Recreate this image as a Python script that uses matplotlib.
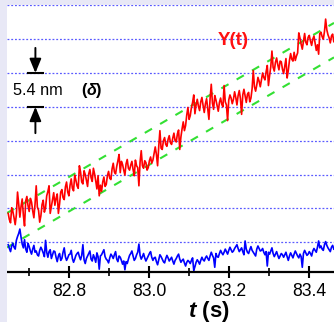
import numpy as np
import matplotlib
matplotlib.use("Agg")
import matplotlib.pyplot as plt
from matplotlib.patches import Rectangle

plt.rcParams['font.family'] = ['Liberation Sans', 'DejaVu Sans']
plt.rcParams['mathtext.fontset'] = 'custom'
plt.rcParams['mathtext.it'] = 'Liberation Sans:italic:bold'
plt.rcParams['mathtext.rm'] = 'Liberation Sans:bold'

# ---- data (time in s, displacement in nm) ----
t_start, t_end = 82.648, 83.462
red_y = [
    4.6, 3.6, 3.1, 5.5, 4.9, 3.9, 2.8, 4.4, 8.0, 6.1, 4.0, 5.7, 6.9, 4.3, 2.6, 6.6, 7.3, 5.8, 4.9, 7.0,
    6.4, 5.0, 3.9, 6.1, 9.0, 5.6, 5.1, 3.2, 4.2, 6.0, 6.7, 4.8, 5.5, 7.4, 8.1, 9.0, 4.6, 5.7, 6.9, 7.9,
    5.9, 7.0, 7.7, 4.6, 6.1, 8.0, 8.4, 7.1, 6.8, 8.8, 9.6, 8.0, 7.4, 9.1, 10.1, 8.6, 8.2, 10.7, 9.9, 9.0,
    8.6, 12.2, 11.2, 9.6, 9.3, 11.4, 10.8, 9.9, 8.9, 10.9, 11.6, 10.3, 9.7, 11.8, 10.9, 9.8, 8.5, 10.6, 7.4, 9.1,
    8.1, 9.6, 10.4, 8.9, 9.2, 10.6, 11.3, 10.2, 10.0, 11.7, 12.6, 11.2, 10.9, 12.1, 13.0, 14.0, 11.1, 12.9, 12.4, 11.5,
    10.7, 12.5, 13.2, 11.8, 11.5, 12.3, 12.9, 11.6, 10.6, 13.1, 12.2, 11.9, 9.0, 12.8, 14.6, 12.2, 11.8, 13.0, 12.7, 11.5,
    11.9, 13.0, 13.6, 12.6, 13.1, 14.2, 15.2, 14.0, 12.2, 15.3, 17.8, 15.0, 14.8, 16.2, 16.7, 15.6, 15.3, 16.4, 17.0, 15.9,
    15.6, 16.6, 17.4, 16.2, 16.0, 17.3, 17.9, 14.8, 16.8, 18.1, 19.2, 17.8, 18.6, 20.3, 21.5, 19.6, 20.2, 21.5, 22.3, 23.5,
    20.5, 21.9, 22.8, 21.7, 21.0, 22.4, 23.1, 21.8, 20.7, 22.1, 22.9, 21.3, 19.6, 22.9, 25.2, 22.2, 21.2, 23.4, 22.7, 21.8,
    20.9, 22.3, 23.0, 22.0, 21.6, 25.0, 22.4, 21.9, 19.4, 22.7, 23.5, 23.0, 22.1, 22.8, 24.0, 23.1, 21.9, 23.4, 24.2, 22.9,
    20.4, 23.5, 24.4, 23.3, 22.3, 23.6, 23.9, 22.4, 23.0, 24.5, 27.4, 24.8, 24.1, 25.1, 26.3, 25.7, 24.8, 25.9, 27.0, 26.3,
    25.9, 27.2, 28.2, 25.0, 26.6, 28.0, 30.5, 27.9, 27.3, 28.7, 29.4, 28.3, 27.5, 28.9, 28.8, 27.6, 26.9, 28.1, 29.3, 26.2,
    27.4, 29.0, 30.1, 29.2, 28.9, 30.3, 29.0, 29.7, 30.2, 33.4, 32.6, 31.6, 30.8, 32.0, 33.3, 31.9, 31.5, 32.7, 33.0, 32.1,
    31.4, 32.4, 32.9, 31.7, 30.6, 31.5, 30.0, 33.3, 33.5, 32.8, 32.4, 33.6, 35.6, 33.9, 33.1, 32.6, 31.8, 32.9, 33.2, 32.0,
]
blue_y = [
    -0.4, -1.0, -1.5, -0.6, -0.2, -0.8, -1.1, 0.3, 0.9, 1.4, 2.1, 0.8, -0.3, -0.9, 0.4, -1.1, -1.6, -0.2, -0.7, -1.4,
    -1.9, -1.1, -0.5, -1.6, -1.4, -2.0, -2.2, -1.3, -0.8, -1.2, -1.7, -2.3, 0.3, -1.6, -2.4, -1.5, -1.2, -2.6, -2.0, -1.4,
    -1.5, -2.4, -3.1, -2.2, -1.8, -2.9, -2.6, -1.6, -0.9, -2.3, -2.9, -2.5, -2.0, -1.9, -1.3, -2.6, -3.2, -2.7, -2.1, -1.8,
    -1.6, -2.3, -2.8, -2.1, -0.4, -2.8, -3.4, -2.6, -2.2, -1.8, -1.4, -2.7, -3.0, -2.0, -2.5, -3.2, -1.7, -2.3, -4.3, -2.2,
    -2.0, -1.6, -1.2, -2.3, -2.7, -2.9, -3.3, -2.5, -1.9, -2.2, -2.6, -2.0, -1.5, -2.7, -3.1, -2.2, -2.4, -2.9, -3.5, -3.0,
    -4.4, -3.1, -3.4, -2.7, -2.1, -1.8, -1.4, -2.2, -2.9, -2.6, -2.0, -1.6, -0.3, -2.1, -2.7, -2.3, -1.8, -2.5, -3.0, -2.6,
    -2.2, -1.8, -1.5, -2.4, -2.9, -2.5, -2.4, -3.1, -3.6, -2.8, -2.0, -2.3, -2.7, -3.1, -3.3, -2.6, -2.1, -2.5, -3.0, -2.7,
    -2.4, -3.0, -3.5, -2.9, -2.6, -2.2, -1.9, -2.7, -3.2, -2.9, -2.7, -3.3, -3.8, -3.2, -2.9, -3.1, -3.4, -2.9, -2.5, -4.5,
    -3.9, -3.2, -2.8, -3.1, -3.5, -2.9, -2.4, -2.8, -3.0, -2.5, -2.2, -2.6, -2.9, -2.2, -1.6, -2.1, -2.5, -4.0, -1.8, -2.3,
    -2.4, -1.8, -1.3, -1.7, -2.0, -1.6, -1.1, -1.5, -1.9, -1.3, -0.8, -1.2, -1.6, -1.4, -1.0, -0.7, -0.4, -1.0, -1.5, -1.2,
    -0.9, -1.5, -2.0, 0.2, -1.1, -1.6, -1.8, -1.2, -0.7, -1.3, -1.6, -1.9, -2.2, -1.1, -0.6, -1.0, -1.4, -1.3, -1.0, -1.6,
    -2.0, -1.5, -3.8, -1.6, -1.9, -1.4, -0.9, -1.8, -2.3, -1.9, -1.5, -2.1, -2.6, -2.2, -1.8, -2.0, -2.4, -2.0, -1.6, -2.3,
    -2.9, -2.2, -1.7, -2.1, -2.5, -1.9, -1.4, -1.8, -2.2, -2.5, -1.9, -2.3, -4.0, -1.8, -1.3, -1.7, -2.1, -1.9, -1.5, -1.8,
    -2.2, -1.4, -1.0, -1.3, -1.6, -0.8, 0.2, -0.9, -0.6, -1.1, -1.3, -0.4, 0.1, -0.5, -0.9, -1.2, -1.5, -0.8, -0.5, -1.1,
]
t_red = np.linspace(t_start, t_end, len(red_y))
t_blue = np.linspace(t_start, t_end, len(blue_y))

band_t = [82.645, 83.4625]
band_lower = [-0.84, 29.49]
band_upper = [4.66, 34.99]

grid_levels = [0.0, 5.4, 10.8, 16.2, 21.6, 27.0, 32.4, 37.8]
major_ticks = [82.8, 83.0, 83.2, 83.4]
major_labels = ["82.8", "83.0", "83.2", "83.4"]
minor_ticks = [82.7, 82.9, 83.1, 83.3]
delta_nm = 5.4

# ---- figure ----
W, H = 334, 322
fig = plt.figure(figsize=(W / 100, H / 100), dpi=100, facecolor='white')
lav = '#e8e8f6'
fig.patches.append(Rectangle((0, 0), 7 / W, 1, transform=fig.transFigure,
                             facecolor=lav, edgecolor='none', zorder=0))
fig.patches.append(Rectangle((0, 1 - 5 / H), 1, 5 / H, transform=fig.transFigure,
                             facecolor=lav, edgecolor='none', zorder=0))

ax_bottom = (H - 272.3) / H
ax_top = (H - 5.3) / H
ax = fig.add_axes([7 / W, ax_bottom, 1 - 7 / W, ax_top - ax_bottom])
ax.set_facecolor('none')
ax.set_xlim(82.645, 83.4625)
ax.set_ylim(-4.8, 37.8)

for g in grid_levels:
    ax.axhline(g, color='#5a5aff', lw=0.9, linestyle=(0, (1.5, 1.5)),
               clip_on=False, zorder=1)

ax.plot(band_t, band_lower, color='#33e033', lw=1.5, dashes=(4, 4.5), zorder=2)
ax.plot(band_t, band_upper, color='#33e033', lw=1.5, dashes=(4, 4.5), zorder=2)

ax.plot(t_red, red_y, color='#ff0000', lw=1.2, zorder=3)
ax.plot(t_blue, blue_y, color='#0000ff', lw=1.2, zorder=3)

for s in ['left', 'right', 'top']:
    ax.spines[s].set_visible(False)
ax.spines['bottom'].set_linewidth(1.6)
ax.spines['bottom'].set_zorder(4)
ax.set_yticks([])
ax.set_xticks(major_ticks)
ax.set_xticklabels(major_labels)
ax.set_xticks(minor_ticks, minor=True)
ax.tick_params(axis='x', which='major', direction='inout', length=8.6,
               width=1.5, labelsize=12.7, pad=3.2, colors='black')
ax.tick_params(axis='x', which='minor', direction='inout', length=5.8,
               width=1.2)

# annotations
t_arr = 82.716
top_level = grid_levels[5]
bot_level = top_level - delta_nm
ax.plot([82.6975, 82.735], [top_level, top_level], color='k', lw=1.5, zorder=5)
ax.plot([82.6975, 82.735], [bot_level, bot_level], color='k', lw=1.5, zorder=5)
arrow_style = '-|>,head_width=0.35,head_length=0.85'
ax.annotate('', xy=(t_arr, top_level), xytext=(t_arr, 31.0),
            arrowprops=dict(arrowstyle=arrow_style, color='k', lw=1.4,
                            shrinkA=0, shrinkB=0))
ax.annotate('', xy=(t_arr, bot_level), xytext=(t_arr, 17.4),
            arrowprops=dict(arrowstyle=arrow_style, color='k', lw=1.4,
                            shrinkA=0, shrinkB=0))
ax.text(82.659, 24.2, "5.4 nm", fontsize=11.7, ha='left', va='center')
ax.text(82.830, 24.2, "(", fontsize=11.7, fontweight='bold', ha='left', va='center')
ax.text(82.8435, 24.2, "δ", fontsize=11.7, fontweight='bold', style='italic',
        ha='left', va='center')
ax.text(82.8655, 24.2, ")", fontsize=11.7, fontweight='bold', ha='left', va='center')

ax.text(83.21, 32.2, "Y(t)", color='#ff1010', fontsize=13.5, fontweight='bold',
        ha='center', va='center')

fig.text(209 / W, (H - 311) / H, r"$t$ (s)", fontsize=16, fontweight='bold',
         ha='center', va='center')

fig.savefig('out.png', dpi=100, facecolor='white')
